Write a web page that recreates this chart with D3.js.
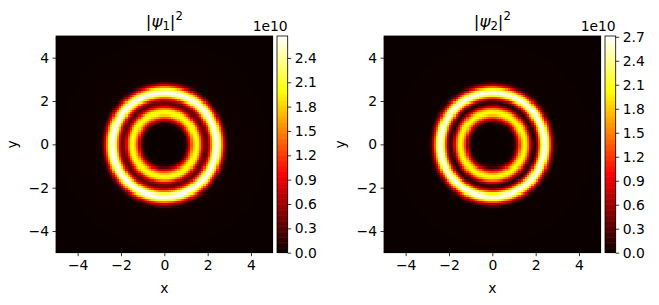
<!DOCTYPE html>
<html>
<head>
<meta charset="utf-8">
<script src="https://cdn.jsdelivr.net/npm/d3@7"></script>
<style>
  body { margin: 0; background: #fff; }
  text { font-family: "DejaVu Sans", sans-serif; fill: #000; }
</style>
</head>
<body>
<script>
// Figure size
var w = 659;
var h = 305;

// Radial profiles (units of 1e10), one value per radius
var radii = [0.0, 0.1, 0.2, 0.3, 0.4, 0.5, 0.6, 0.7, 0.8, 0.9,
             1.0, 1.1, 1.2, 1.3, 1.4, 1.5, 1.6, 1.7, 1.8, 1.9,
             2.0, 2.1, 2.2, 2.3, 2.4, 2.5, 2.6, 2.7, 2.8, 2.9, 3.0, 5.0];
var psi1 = [0, 0, 0, 0, 0, 0, 0, 0, 0, 0.02,
            0.12, 0.45, 1.0, 1.6, 1.95, 2.05, 1.85, 1.2, 0.6, 0.32,
            0.45, 1.0, 1.8, 2.45, 2.67, 2.5, 1.9, 1.1, 0.45, 0.12, 0.02, 0];
var psi2 = [0, 0, 0, 0, 0, 0, 0, 0, 0, 0.01,
            0.08, 0.35, 0.9, 1.55, 1.95, 2.05, 1.8, 1.2, 0.5, 0.12,
            0.2, 0.8, 1.7, 2.4, 2.71, 2.5, 1.8, 0.95, 0.35, 0.08, 0.01, 0];

// Colour limits and tick labels
var vmax1 = 2.67;
var vmax2 = 2.71;
var cbarTicks1 = [0.0, 0.3, 0.6, 0.9, 1.2, 1.5, 1.8, 2.1, 2.4];
var cbarTicks2 = [0.0, 0.3, 0.6, 0.9, 1.2, 1.5, 1.8, 2.1, 2.4, 2.7];
var axisTicks = [-4, -2, 0, 2, 4];
var titles = ["1", "2"];

// grid of the simulation: 100 x 100 cells on [-5, 5]
var nCells = 100;
var cellSize = 10 / nCells;

// matplotlib "hot" colormap
var hot = d3.scaleLinear()
  .domain([0, 0.365079, 0.746032, 1])
  .range(["#0b0000", "#ff0000", "#ffff00", "#ffffff"])
  .interpolate(d3.interpolateRgb)
  .clamp(true);

var svg = d3.select("body").append("svg").attr("width", w).attr("height", h);

function drawPanel(left, profile, vmax, cbarTicks, sub) {
  var size = 216.7;
  var top = 36;
  var x = d3.scaleLinear().domain([-5, 5]).range([left, left + size]);
  var y = d3.scaleLinear().domain([-5, 5]).range([top + size, top]);
  var radial = d3.scaleLinear().domain(radii).range(profile).clamp(true);

  var cells = [];
  d3.range(nCells).forEach(function(i) {
    d3.range(nCells).forEach(function(j) {
      var cx = -5 + (i + 0.5) * cellSize;
      var cy = -5 + (j + 0.5) * cellSize;
      cells.push({ x0: -5 + i * cellSize, y1: -5 + (j + 1) * cellSize,
                   v: radial(Math.sqrt(cx * cx + cy * cy)) });
    });
  });

  var g = svg.append("g");
  g.selectAll("rect").data(cells).enter().append("rect")
    .attr("x", function(d) { return x(d.x0); })
    .attr("y", function(d) { return y(d.y1); })
    .attr("width", x(cellSize) - x(0) + 0.4)
    .attr("height", y(0) - y(cellSize) + 0.4)
    .attr("fill", function(d) { return hot(d.v / vmax); })
    .attr("shape-rendering", "crispEdges");

  // frame
  svg.append("rect").attr("x", left).attr("y", top).attr("width", size).attr("height", size)
    .attr("fill", "none").attr("stroke", "#000").attr("stroke-width", 0.8);

  var xAxis = svg.append("g").attr("transform", "translate(0," + (top + size) + ")")
    .call(d3.axisBottom(x).tickValues(axisTicks).tickSize(3.5).tickPadding(3.5));
  var yAxis = svg.append("g").attr("transform", "translate(" + left + ",0)")
    .call(d3.axisLeft(y).tickValues(axisTicks).tickSize(3.5).tickPadding(3.5));
  [xAxis, yAxis].forEach(function(a) {
    a.select(".domain").remove();
    a.selectAll("line").attr("stroke", "#000").attr("stroke-width", 0.8);
    a.selectAll("text").style("font-size", "13.9px").style("font-family", "DejaVu Sans");
  });

  svg.append("text").attr("x", left + size / 2).attr("y", 293)
    .attr("text-anchor", "middle").style("font-size", "13.9px").text("x");
  svg.append("text").attr("transform", "translate(" + (left - 39) + "," + (top + size / 2) + ") rotate(-90)")
    .attr("text-anchor", "middle").style("font-size", "13.9px").text("y");

  // title |psi_n|^2
  var t = svg.append("text").attr("x", left + size / 2).attr("y", 27)
    .attr("text-anchor", "middle").style("font-size", "16.7px");
  t.append("tspan").text("|");
  t.append("tspan").style("font-style", "italic").text("ψ");
  t.append("tspan").attr("dy", 3).style("font-size", "11.7px").text(sub);
  t.append("tspan").attr("dy", -3).text("|");
  t.append("tspan").attr("dy", -7).style("font-size", "11.7px").text("2");

  // colorbar
  var cbLeft = left + size + 4.3;
  var cbW = 10.7;
  var c = d3.scaleLinear().domain([0, vmax]).range([top + size, top]);
  var steps = d3.range(0, 256).map(function(k) { return k / 256 * vmax; });
  svg.append("g").selectAll("rect").data(steps).enter().append("rect")
    .attr("x", cbLeft)
    .attr("y", function(d) { return c(d + vmax / 256) - 0.3; })
    .attr("width", cbW)
    .attr("height", c(0) - c(vmax / 256) + 0.6)
    .attr("fill", function(d) { return hot((d + vmax / 512) / vmax); });
  svg.append("rect").attr("x", cbLeft).attr("y", top).attr("width", cbW).attr("height", size)
    .attr("fill", "none").attr("stroke", "#000").attr("stroke-width", 0.8);
  var cAxis = svg.append("g").attr("transform", "translate(" + (cbLeft + cbW) + ",0)")
    .call(d3.axisRight(c).tickValues(cbarTicks).tickFormat(d3.format(".1f")).tickSize(3.5).tickPadding(3.5));
  cAxis.select(".domain").remove();
  cAxis.selectAll("line").attr("stroke", "#000").attr("stroke-width", 0.8);
  cAxis.selectAll("text").style("font-size", "13.9px").style("font-family", "DejaVu Sans");

  svg.append("text").attr("x", cbLeft + cbW).attr("y", 31)
    .attr("text-anchor", "end").style("font-size", "13.9px").text("1e10");
}

drawPanel(56, psi1, vmax1, cbarTicks1, titles[0]);
drawPanel(384, psi2, vmax2, cbarTicks2, titles[1]);
</script>
</body>
</html>
